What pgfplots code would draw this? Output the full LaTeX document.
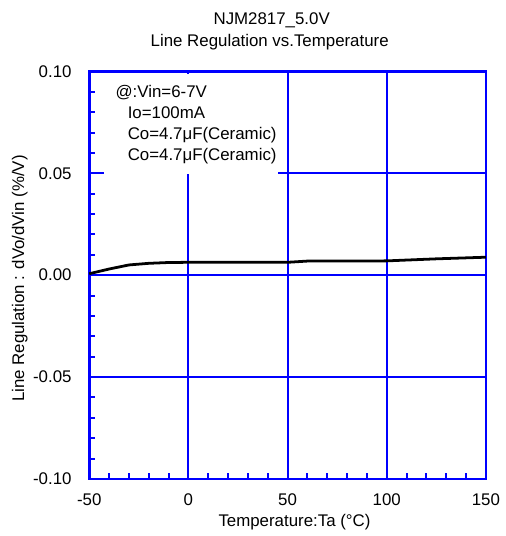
\documentclass[border=0pt]{standalone}
\usepackage{pgfplots}
\pgfplotsset{compat=1.18}
\usepackage{fontspec}
\setmainfont{Liberation Sans}
\begin{document}
\fontsize{17bp}{20bp}\selectfont
\begin{tikzpicture}[every node/.append style={font=\fontsize{17bp}{20bp}\selectfont}]
\begin{axis}[
  at={(0,0)}, anchor=south west,
  scale only axis, width=400bp, height=411bp,
  xmin=-50, xmax=150, ymin=-0.1, ymax=0.1,
  xtick={-50,0,50,100,150},
  xticklabels={-50,0,50,100,150},
  ytick={-0.1,-0.05,0,0.05,0.1},
  yticklabels={-0.10,-0.05,0.00,0.05,0.10},
  minor x tick num=4, minor y tick num=4,
  tick pos=left, major tick length=0pt, minor tick length=6bp,
  tick align=inside,
  grid=major,
  major grid style={draw=blue, line width=2bp},
  axis line style={draw=blue, line width=2.6bp},
  major tick style={draw=blue, line width=2bp},
  minor tick style={draw=blue, line width=2bp},
  xticklabel style={yshift=-9bp},
  yticklabel style={xshift=-12bp},
  clip=false,
]
\fill[white] (axis cs:-42.5,0.0497) rectangle (axis cs:45,0.0985);
\addplot[black, line width=2.8bp, line join=round] coordinates {
(-50,0.0007) (-40,0.0030) (-30,0.0050) (-20,0.0058) (-10,0.0062) (0,0.0063)
(50,0.0063) (60,0.0069) (100,0.0070) (125,0.0080) (150,0.0088)};
\end{axis}
\node[anchor=base west] at (20.7bp,384.5bp) {@:Vin=6-7V};
\node[anchor=base west] at (33bp,363.5bp) {Io=100mA};
\node[anchor=base west] at (33bp,342.5bp) {Co=4.7μF(Ceramic)};
\node[anchor=base west] at (33bp,321.5bp) {Co=4.7μF(Ceramic)};
\node at (184bp,462.5bp) {NJM2817\_5.0V};
\node at (182bp,440bp) {Line Regulation vs.Temperature};
\node at (207bp,-44bp) {Temperature:Ta (°C)};
\node[rotate=90] at (-70bp,202bp) {Line Regulation : dVo/dVin (\%/V)};
\path[use as bounding box] (-90bp,-53bp) rectangle (417bp,483bp);
\end{tikzpicture}
\end{document}
